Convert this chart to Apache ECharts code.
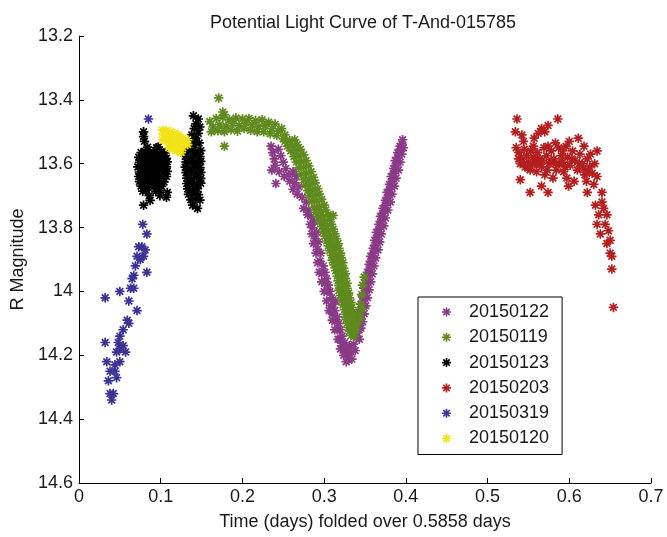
<!DOCTYPE html>
<html><head><meta charset="utf-8">
<script src="https://cdn.jsdelivr.net/npm/echarts@6/dist/echarts.min.js"></script>
<style>html,body{margin:0;padding:0;background:#fff}#c{width:667px;height:537px}</style>
</head><body><div id="c"></div>
<script>
const titleText = "Potential Light Curve of T-And-015785";
const xName = "Time (days) folded over 0.5858 days";
const yName = "R Magnitude";
const seriesNames = ["20150122","20150119","20150123","20150203","20150319","20150120"];
const seriesColors = ["#8a3a86","#5f8a1e","#000000","#b41e1e","#3c3296","#f2e21a"];

const d20150122 = [
[0.235,13.545],[0.237,13.565],[0.239,13.585],[0.240,13.605],[0.236,13.62],
[0.244,13.555],[0.247,13.575],[0.250,13.595],[0.253,13.615],[0.257,13.635],
[0.245,13.625],[0.251,13.64],[0.258,13.655],[0.264,13.66],[0.269,13.672],[0.262,13.625],[0.266,13.64],
[0.262,13.68],[0.267,13.695],[0.273,13.705],[0.278,13.72],[0.275,13.74],
[0.281,13.745],[0.284,13.765],[0.288,13.78],[0.286,13.80],[0.291,13.815],
[0.289,13.835],[0.293,13.845],[0.292,13.868],[0.296,13.88],[0.295,13.905],
[0.299,13.92],[0.301,13.94],[0.303,13.96],[0.305,13.98],[0.307,14.0],
[0.309,14.02],[0.311,14.04],[0.314,14.03],[0.313,14.06],[0.316,14.08],
[0.318,14.10],[0.320,14.12],[0.322,14.14],[0.325,14.16],[0.327,14.18],
[0.329,14.20],[0.331,14.17],[0.333,14.19],[0.336,14.165],[0.338,14.185],
[0.334,14.212],[0.241,13.662],
[0.297,13.945],[0.301,13.975],[0.304,14.0],[0.308,14.045],[0.310,14.07],[0.313,14.095],[0.316,14.12],[0.319,14.15],[0.322,14.17],[0.325,14.19],[0.330,14.215],
[0.280,13.76],[0.283,13.79],[0.285,13.82],[0.287,13.85],[0.290,13.88],[0.292,13.91],[0.294,13.94],[0.297,13.97],[0.300,14.0],[0.303,14.03],[0.306,14.06],[0.310,14.09],[0.313,14.12],[0.317,14.15],[0.320,14.18],[0.324,14.2],[0.327,14.22],
[0.340,14.14],[0.343,14.12],
[0.337,14.14],[0.343,14.15],[0.339,14.12],[0.345,14.115],[0.341,14.09],[0.347,14.095],
[0.343,14.065],[0.349,14.07],[0.345,14.04],[0.351,14.045],[0.347,14.015],[0.353,14.02],
[0.349,13.99],[0.355,13.995],[0.351,13.965],[0.357,13.97],[0.353,13.94],[0.359,13.945],
[0.355,13.915],[0.361,13.92],[0.357,13.89],[0.363,13.895],[0.360,13.865],[0.366,13.87],
[0.362,13.84],[0.368,13.845],[0.364,13.815],[0.370,13.82],[0.367,13.79],[0.373,13.795],
[0.369,13.765],[0.375,13.77],[0.372,13.74],[0.378,13.745],[0.375,13.715],[0.381,13.72],
[0.377,13.69],[0.383,13.695],[0.380,13.665],[0.386,13.67],[0.382,13.64],[0.388,13.645],
[0.385,13.615],[0.391,13.62],[0.387,13.59],[0.393,13.595],[0.390,13.565],[0.395,13.57],
[0.393,13.545],[0.397,13.55],[0.396,13.525],
[0.340,14.13],[0.342,14.105],[0.344,14.08],[0.346,14.055],[0.348,14.03],[0.350,14.005],[0.352,13.98],[0.354,13.955],[0.356,13.93],[0.358,13.905],[0.360,13.88],[0.363,13.855],[0.365,13.83],
[0.367,13.805],[0.370,13.78],[0.372,13.755],[0.375,13.73],[0.378,13.705],[0.380,13.68],[0.383,13.655],[0.385,13.63],[0.388,13.605],[0.390,13.58],[0.393,13.555],[0.395,13.538]
];

const d20150119 = [
[0.160,13.468],[0.168,13.458],[0.176,13.455],[0.184,13.462],[0.192,13.457],[0.200,13.46],[0.208,13.458],[0.216,13.465],[0.224,13.462],[0.232,13.47],[0.240,13.476],[0.248,13.49],
[0.164,13.485],[0.172,13.478],[0.180,13.482],[0.188,13.474],[0.196,13.48],[0.204,13.472],[0.212,13.478],[0.220,13.483],[0.228,13.48],[0.236,13.49],[0.244,13.498],[0.252,13.51],
[0.162,13.50],[0.170,13.497],[0.178,13.50],[0.186,13.494],[0.194,13.498],[0.202,13.49],[0.210,13.495],[0.218,13.50],[0.226,13.50],[0.234,13.506],[0.242,13.512],[0.250,13.522],
[0.176,13.438],[0.178,13.446],[0.171,13.394],[0.178,13.545],
[0.252,13.53],[0.258,13.528],[0.264,13.525],
[0.259,13.56],[0.265,13.56],[0.271,13.555],
[0.266,13.595],[0.272,13.593],[0.278,13.59],
[0.272,13.632],[0.278,13.63],[0.284,13.625],
[0.277,13.667],[0.283,13.665],[0.289,13.66],
[0.282,13.70],[0.288,13.70],[0.294,13.695],
[0.288,13.737],[0.294,13.735],[0.300,13.73],
[0.293,13.767],[0.299,13.765],[0.305,13.76],
[0.297,13.797],[0.303,13.795],[0.309,13.79],
[0.301,13.827],[0.307,13.825],[0.313,13.82],
[0.305,13.857],[0.311,13.855],[0.317,13.85],
[0.309,13.887],[0.315,13.885],[0.320,13.88],
[0.312,13.917],[0.318,13.915],[0.323,13.91],
[0.316,13.952],[0.321,13.95],[0.326,13.945],
[0.318,13.982],[0.323,13.98],[0.328,13.975],
[0.320,14.012],[0.325,14.01],[0.330,14.005],
[0.323,14.042],[0.328,14.04],[0.333,14.035],
[0.326,14.072],[0.330,14.07],[0.335,14.065],
[0.328,14.10],[0.332,14.10],[0.336,14.095],
[0.331,14.125],[0.335,14.128],[0.339,14.12],
[0.341,14.10],[0.343,14.07],[0.345,14.04],[0.346,14.01],[0.347,13.98],[0.349,13.955],[0.344,14.085],[0.346,14.055],
[0.311,13.762],
[0.255,13.545],[0.261,13.544],[0.267,13.54],
[0.263,13.578],[0.269,13.576],[0.275,13.572],
[0.269,13.613],[0.275,13.611],[0.281,13.607],
[0.275,13.65],[0.281,13.648],[0.287,13.643],
[0.280,13.684],[0.286,13.682],[0.292,13.678],
[0.285,13.718],[0.291,13.717],[0.297,13.712],
[0.290,13.752],[0.296,13.75],[0.302,13.745],
[0.295,13.782],[0.301,13.78],[0.307,13.775],
[0.299,13.812],[0.305,13.81],[0.311,13.805],
[0.303,13.842],[0.309,13.84],[0.315,13.835],
[0.307,13.872],[0.313,13.87],[0.318,13.865],
[0.310,13.902],[0.316,13.90],[0.321,13.895],
[0.314,13.935],[0.319,13.932],[0.324,13.928],
[0.317,13.967],[0.321,13.965],[0.326,13.96],
[0.318,13.997],[0.323,13.995],[0.328,13.99],
[0.322,14.027],[0.326,14.025],[0.331,14.02],
[0.325,14.057],[0.329,14.055],[0.334,14.05],
[0.327,14.087],[0.331,14.085],[0.335,14.08],
[0.330,14.113],[0.334,14.113],[0.338,14.108],
[0.333,14.138],[0.337,14.14]
];

const d20150123 = [
[0.076,13.565],[0.081,13.562],[0.086,13.566],[0.091,13.563],[0.096,13.567],[0.101,13.561],[0.105,13.566],
[0.073,13.58],[0.078,13.583],[0.083,13.579],[0.088,13.582],[0.093,13.578],[0.098,13.584],[0.103,13.58],[0.107,13.583],
[0.074,13.596],[0.079,13.593],[0.084,13.597],[0.089,13.594],[0.094,13.598],[0.099,13.593],[0.104,13.596],[0.108,13.594],
[0.072,13.61],[0.077,13.613],[0.082,13.609],[0.087,13.612],[0.092,13.608],[0.097,13.611],[0.102,13.614],[0.107,13.61],
[0.074,13.626],[0.079,13.623],[0.084,13.627],[0.089,13.624],[0.094,13.626],[0.099,13.622],[0.104,13.627],[0.108,13.624],
[0.073,13.64],[0.078,13.643],[0.083,13.639],[0.088,13.642],[0.093,13.638],[0.098,13.641],[0.103,13.644],[0.107,13.64],
[0.074,13.656],[0.079,13.653],[0.084,13.657],[0.089,13.654],[0.094,13.656],[0.099,13.652],[0.104,13.657],
[0.076,13.67],[0.081,13.673],[0.086,13.669],[0.091,13.672],[0.096,13.668],[0.101,13.671],
[0.078,13.686],[0.083,13.683],[0.094,13.687],[0.099,13.684],
[0.079,13.50],[0.079,13.515],[0.080,13.53],[0.084,13.548],[0.095,13.55],[0.097,13.548],[0.079,13.73],[0.108,13.69],[0.107,13.705],[0.086,13.70],[0.087,13.715],[0.099,13.70],
[0.131,13.56],[0.137,13.558],[0.143,13.562],[0.149,13.559],
[0.130,13.577],[0.136,13.579],[0.142,13.576],[0.148,13.578],
[0.131,13.594],[0.137,13.592],[0.143,13.595],[0.149,13.593],
[0.130,13.611],[0.136,13.613],[0.142,13.61],[0.148,13.612],
[0.131,13.628],[0.137,13.626],[0.143,13.629],[0.149,13.627],
[0.132,13.645],[0.138,13.647],[0.144,13.644],[0.149,13.646],
[0.132,13.662],[0.138,13.66],[0.144,13.663],[0.149,13.661],
[0.133,13.679],[0.139,13.681],[0.145,13.678],
[0.134,13.696],[0.140,13.694],[0.146,13.697],
[0.137,13.713],[0.143,13.711],[0.148,13.714],
[0.139,13.73],[0.145,13.74],
[0.140,13.45],[0.146,13.46],[0.143,13.475],[0.148,13.485],[0.141,13.49],[0.146,13.505],[0.138,13.51],[0.143,13.52],[0.136,13.53],[0.141,13.54],[0.130,13.545],[0.147,13.535]
];

const d20150203 = [
[0.536,13.46],[0.586,13.46],[0.534,13.50],[0.542,13.51],[0.544,13.53],[0.562,13.505],[0.566,13.49],[0.574,13.48],[0.570,13.50],[0.557,13.52],[0.611,13.52],[0.634,13.56],
[0.535,13.55],[0.538,13.565],[0.541,13.58],[0.540,13.60],[0.545,13.555],[0.548,13.575],[0.550,13.595],[0.546,13.61],[0.553,13.56],[0.556,13.58],[0.552,13.62],[0.558,13.60],
[0.561,13.565],[0.564,13.585],[0.560,13.625],[0.566,13.61],[0.569,13.55],[0.572,13.575],[0.575,13.60],[0.570,13.635],[0.578,13.56],[0.581,13.585],[0.584,13.62],[0.580,13.645],
[0.587,13.55],[0.590,13.575],[0.588,13.60],[0.593,13.625],[0.596,13.545],[0.598,13.58],[0.601,13.605],[0.597,13.645],[0.604,13.56],[0.607,13.59],[0.610,13.62],[0.606,13.655],
[0.613,13.57],[0.616,13.60],[0.619,13.635],[0.622,13.585],[0.625,13.61],[0.621,13.655],[0.628,13.63],[0.631,13.60],[0.634,13.64],[0.630,13.665],[0.626,13.57],[0.618,13.545],[0.600,13.53],[0.583,13.535],
[0.540,13.65],[0.552,13.69],[0.566,13.67],[0.574,13.69],[0.599,13.67],[0.622,13.69],[0.640,13.69],
[0.632,13.73],[0.640,13.72],[0.636,13.76],[0.646,13.76],[0.634,13.79],[0.644,13.79],[0.638,13.82],[0.648,13.81],[0.646,13.85],[0.650,13.88],[0.652,13.89],[0.652,13.93],[0.654,14.05],[0.642,13.74],[0.650,13.84],
[0.538,13.585],[0.543,13.595],[0.549,13.61],[0.555,13.60],[0.559,13.585],[0.563,13.60],[0.567,13.59],[0.573,13.62],[0.577,13.595],[0.583,13.60],[0.592,13.595],[0.595,13.61],[0.603,13.585],[0.612,13.60],[0.617,13.615],[0.623,13.625],[0.592,13.56],[0.574,13.545],[0.556,13.545]
];

const d20150319 = [
[0.085,13.46],[0.078,13.79],[0.083,13.82],[0.073,13.86],[0.077,13.86],[0.081,13.87],[0.071,13.89],[0.079,13.89],[0.075,13.90],[0.069,13.92],[0.083,13.94],[0.067,13.95],[0.065,13.96],
[0.063,13.99],[0.067,13.99],[0.050,14.0],[0.061,14.03],[0.032,14.02],[0.071,14.06],[0.059,14.09],[0.061,14.10],[0.054,14.12],[0.050,14.14],[0.048,14.16],[0.054,14.17],[0.050,14.18],
[0.046,14.19],[0.057,14.19],[0.032,14.16],[0.034,14.22],[0.044,14.23],[0.050,14.22],[0.038,14.25],[0.044,14.25],[0.046,14.27],[0.036,14.28],[0.038,14.32],[0.042,14.32],[0.040,14.34]
];

const d20150120 = [
[0.102,13.495],[0.107,13.497],[0.112,13.50],[0.117,13.505],[0.122,13.51],[0.127,13.52],
[0.104,13.51],[0.109,13.512],[0.114,13.515],[0.119,13.52],[0.124,13.527],[0.129,13.535],
[0.102,13.525],[0.107,13.53],[0.112,13.533],[0.117,13.54],[0.122,13.545],[0.127,13.55],
[0.110,13.55],[0.115,13.555],[0.120,13.56],[0.125,13.565],[0.133,13.525],[0.133,13.54]
];

const xTicks = [0,0.1,0.2,0.3,0.4,0.5,0.6,0.7];
const yTicks = [13.2,13.4,13.6,13.8,14,14.2,14.4,14.6];

const allData = [d20150122,d20150119,d20150123,d20150203,d20150319,d20150120];
const ASTER = "path://M8.2,0H11.8V20H8.2Z M0,8.2H20V11.8H0Z M4.17,1.63L18.37,15.83L15.83,18.37L1.63,4.17Z M15.83,1.63L18.37,4.17L4.17,18.37L1.63,15.83Z";
const FONT = "Liberation Sans";

const chart = echarts.init(document.getElementById('c'), null, {renderer:'canvas'});
chart.setOption({
  animation: false,
  backgroundColor: '#fff',
  title: {text: titleText, left: 358, top: 9, textAlign: 'center',
    textStyle: {fontFamily: FONT, fontSize: 18, fontWeight: 'normal', color: '#1a1a1a'}},
  grid: {left: 79, right: 16, top: 36, bottom: 54, containLabel: false},
  xAxis: {type: 'value', min: xTicks[0], max: xTicks[xTicks.length-1], interval: 0.1,
    name: xName, nameLocation: 'middle', nameGap: 30,
    nameTextStyle: {fontFamily: FONT, fontSize: 18, color: '#1a1a1a'},
    axisLine: {lineStyle: {color: '#000', width: 1}},
    axisTick: {inside: true, length: 5, lineStyle: {color: '#000'}},
    axisLabel: {fontFamily: FONT, fontSize: 18, color: '#1a1a1a', margin: 5},
    splitLine: {show: false}},
  yAxis: {type: 'value', inverse: true, min: yTicks[0], max: yTicks[yTicks.length-1], interval: 0.2,
    name: yName, nameLocation: 'middle', nameGap: 43,
    nameTextStyle: {fontFamily: FONT, fontSize: 18, color: '#1a1a1a'},
    axisLine: {lineStyle: {color: '#000', width: 1}},
    axisTick: {inside: true, length: 5, lineStyle: {color: '#000'}},
    axisLabel: {fontFamily: FONT, fontSize: 18, color: '#1a1a1a', margin: 6},
    splitLine: {show: false}},
  legend: {orient: 'vertical', left: 418, top: 297,
    padding: [6, 13, 7, 24], itemGap: 7.3, itemWidth: 9, itemHeight: 9,
    borderColor: '#000', borderWidth: 1, backgroundColor: '#fff',
    textStyle: {fontFamily: FONT, fontSize: 18, color: '#1a1a1a', lineHeight: 18, padding: [0,0,0,13]},
    data: seriesNames.map(n => ({name: n, icon: ASTER}))},
  series: seriesNames.map((n, i) => ({
    name: n, type: 'scatter', data: allData[i], symbol: ASTER, symbolSize: 9.5,
    itemStyle: {color: seriesColors[i], opacity: 1}, emphasis: {disabled: true}
  }))
});
</script></body></html>
